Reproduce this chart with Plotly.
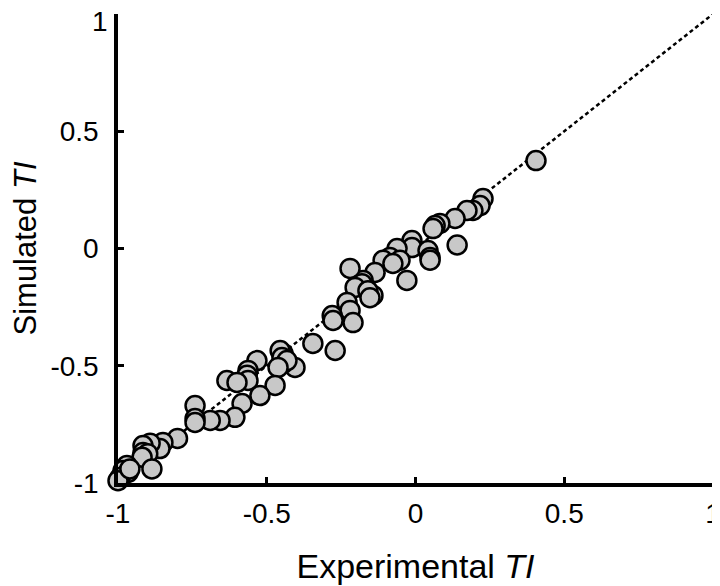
import plotly.graph_objects as go

exp_ti = [0.405, 0.227, 0.217, 0.193, 0.173, 0.133, 0.082, 0.066, 0.059, 0.14,
          -0.012, -0.012, -0.062, 0.042, 0.049, 0.049, -0.086, -0.109, -0.052, -0.076,
          -0.029, -0.136, -0.176, -0.17, -0.143, -0.22, -0.18, -0.203, -0.16, -0.153,
          -0.23, -0.22, -0.28, -0.277, -0.21, -0.345, -0.27, -0.445, -0.405, -0.445,
          -0.455, -0.449, -0.432, -0.462, -0.472, -0.533, -0.563, -0.566, -0.563, -0.634,
          -0.60, -0.523, -0.583, -0.607, -0.657, -0.69, -0.741, -0.741, -0.741, -0.80,
          -0.849, -0.859, -0.892, -0.916, -0.916, -0.90, -0.919, -0.886, -0.97, -0.983,
          -0.966, -0.993, -1.0, -0.96]
sim_ti = [0.375, 0.213, 0.183, 0.162, 0.162, 0.128, 0.107, 0.098, 0.085, 0.015,
          0.034, 0.004, 0.0, -0.009, -0.038, -0.05, -0.038, -0.05, -0.05, -0.064,
          -0.136, -0.102, -0.136, -0.17, -0.2, -0.085, -0.15, -0.166, -0.18, -0.21,
          -0.23, -0.264, -0.286, -0.307, -0.316, -0.405, -0.435, -0.448, -0.507, -0.49,
          -0.435, -0.465, -0.478, -0.507, -0.584, -0.478, -0.52, -0.54, -0.563, -0.563,
          -0.571, -0.627, -0.661, -0.72, -0.733, -0.733, -0.67, -0.725, -0.742, -0.81,
          -0.827, -0.853, -0.83, -0.84, -0.87, -0.875, -0.89, -0.94, -0.925, -0.947,
          -0.955, -0.977, -0.99, -0.94]

identity = [-1, 1]
tick_vals = [-1, -0.5, 0, 0.5, 1]
tick_text = ["-1", "-0.5", "0", "0.5", "1"]
# top y label is drawn as an annotation nudged down so it is not clipped
y_tick_text = tick_text[:-1] + [""]

TICK_FONT = dict(family="Liberation Sans, Arial", size=28, color="black")

fig = go.Figure()
fig.add_trace(go.Scatter(x=identity, y=identity, mode="lines",
                         line=dict(color="black", width=2.5, dash="4px,3px"),
                         hoverinfo="skip", cliponaxis=False))
fig.add_trace(go.Scatter(x=exp_ti, y=sim_ti, mode="markers", cliponaxis=False,
                         marker=dict(size=19, color="#c8c8c8",
                                     line=dict(color="black", width=2.5))))

axis_common = dict(range=[-1, 1], tickvals=tick_vals,
                   showgrid=False, zeroline=False, showline=True, automargin=False,
                   ticklabeloverflow="allow",
                   linecolor="black", linewidth=3.5, ticks="inside",
                   ticklen=6, tickwidth=3, tickcolor="black",
                   tickfont=TICK_FONT)

fig.add_annotation(x=0, xref="paper", y=tick_vals[-1], yref="y",
                   text=tick_text[-1], showarrow=False, font=TICK_FONT,
                   xanchor="right", yanchor="middle", xshift=-9, yshift=-7,
                   borderpad=0)

# page body adds an 8px offset; margins compensate so the plot area lands at
# x 118..713, y 14..483 in the screenshot
fig.update_layout(
    width=720, height=586,
    margin=dict(l=110, r=15, t=6, b=111),
    paper_bgcolor="white", plot_bgcolor="white",
    showlegend=False,
    font=dict(family="Liberation Sans, Arial", color="black"),
    xaxis=dict(**axis_common, ticktext=tick_text, ticklabelstandoff=3,
               title=dict(text="Experimental <i>TI</i>", font=dict(size=34), standoff=27)),
    yaxis=dict(**axis_common, ticktext=y_tick_text, ticklabelstandoff=10,
               title=dict(text="Simulated <i>TI</i>", font=dict(size=31), standoff=31)),
)

fig.write_html("out.html")
